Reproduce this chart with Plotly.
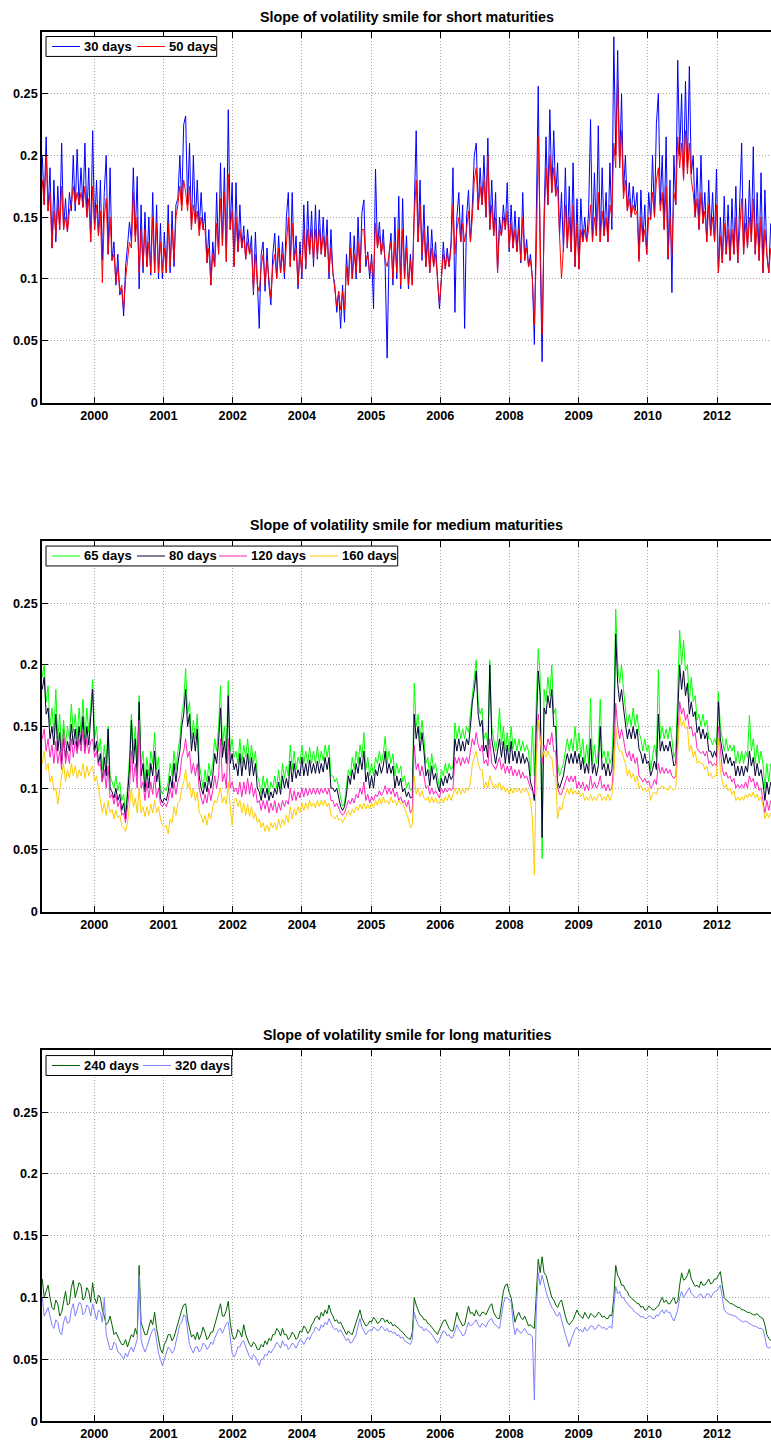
import pandas as pd
import plotly.graph_objects as go

# Fortnightly observation dates shared by all series
DATES = pd.date_range("1999-01-04", periods=377, freq="14D")

# x ticks every 500 days, labelled by year
TICK_DATES = [pd.Timestamp("2000-01-15") + pd.Timedelta(days=500 * k) for k in range(10)]
TICK_LABELS = ["2000", "2001", "2002", "2004", "2005", "2006", "2008", "2009", "2010", "2012"]
Y_TICKS = [0, 0.05, 0.1, 0.15, 0.2, 0.25]
Y_LABELS = ["0", "0.05", "0.1", "0.15", "0.2", "0.25"]

# ---- short maturities ----
slope_30d = [
    0.20, 0.16, 0.215, 0.155, 0.19, 0.125, 0.18, 0.13, 0.175, 0.14,
    0.21, 0.14, 0.165, 0.138, 0.17, 0.155, 0.20, 0.155, 0.205, 0.16,
    0.19, 0.158, 0.21, 0.15, 0.19, 0.13, 0.22, 0.14, 0.18, 0.135,
    0.18, 0.115, 0.17, 0.20, 0.12, 0.19, 0.115, 0.13, 0.095, 0.12,
    0.087, 0.092, 0.07, 0.11, 0.127, 0.146, 0.13, 0.19, 0.135, 0.183,
    0.092, 0.16, 0.105, 0.154, 0.11, 0.15, 0.103, 0.17, 0.105, 0.16,
    0.10, 0.145, 0.10, 0.138, 0.105, 0.16, 0.105, 0.155, 0.11, 0.16,
    0.165, 0.20, 0.16, 0.225, 0.232, 0.16, 0.21, 0.14, 0.20, 0.145,
    0.18, 0.14, 0.17, 0.14, 0.154, 0.113, 0.14, 0.095, 0.13, 0.11,
    0.17, 0.12, 0.194, 0.127, 0.19, 0.114, 0.237, 0.14, 0.178, 0.11,
    0.178, 0.122, 0.16, 0.125, 0.143, 0.116, 0.14, 0.12, 0.135, 0.087,
    0.138, 0.09, 0.06, 0.12, 0.13, 0.09, 0.125, 0.095, 0.079, 0.12,
    0.137, 0.10, 0.135, 0.105, 0.13, 0.10, 0.15, 0.17, 0.11, 0.17,
    0.115, 0.135, 0.092, 0.13, 0.10, 0.16, 0.108, 0.163, 0.12, 0.155,
    0.11, 0.16, 0.116, 0.156, 0.12, 0.15, 0.118, 0.148, 0.10, 0.14,
    0.105, 0.095, 0.073, 0.09, 0.06, 0.095, 0.065, 0.12, 0.095, 0.138,
    0.10, 0.135, 0.10, 0.15, 0.105, 0.154, 0.164, 0.11, 0.122, 0.10,
    0.12, 0.076, 0.189, 0.125, 0.146, 0.12, 0.14, 0.11, 0.036, 0.12,
    0.137, 0.095, 0.15, 0.10, 0.167, 0.092, 0.165, 0.10, 0.135, 0.092,
    0.12, 0.095, 0.17, 0.22, 0.13, 0.18, 0.115, 0.16, 0.11, 0.143,
    0.105, 0.14, 0.11, 0.13, 0.10, 0.076, 0.10, 0.13, 0.108, 0.125,
    0.11, 0.13, 0.19, 0.073, 0.15, 0.17, 0.13, 0.16, 0.06, 0.15,
    0.172, 0.13, 0.16, 0.20, 0.21, 0.156, 0.19, 0.16, 0.20, 0.15,
    0.214, 0.14, 0.18, 0.135, 0.17, 0.105, 0.15, 0.135, 0.16, 0.14,
    0.178, 0.122, 0.16, 0.125, 0.155, 0.122, 0.15, 0.113, 0.17, 0.115,
    0.132, 0.11, 0.12, 0.10, 0.047, 0.14, 0.256, 0.12, 0.033, 0.15,
    0.215, 0.16, 0.237, 0.17, 0.22, 0.167, 0.194, 0.135, 0.17, 0.122,
    0.19, 0.125, 0.175, 0.122, 0.194, 0.11, 0.165, 0.108, 0.165, 0.13,
    0.15, 0.13, 0.155, 0.229, 0.13, 0.186, 0.135, 0.224, 0.13, 0.19,
    0.135, 0.17, 0.13, 0.194, 0.14, 0.296, 0.20, 0.285, 0.19, 0.25,
    0.17, 0.20, 0.155, 0.178, 0.15, 0.175, 0.155, 0.17, 0.116, 0.172,
    0.13, 0.16, 0.12, 0.17, 0.148, 0.20, 0.15, 0.226, 0.25, 0.16,
    0.20, 0.14, 0.215, 0.116, 0.18, 0.089, 0.20, 0.16, 0.277, 0.20,
    0.25, 0.18, 0.26, 0.19, 0.272, 0.185, 0.20, 0.15, 0.19, 0.14,
    0.20, 0.145, 0.17, 0.13, 0.18, 0.135, 0.17, 0.13, 0.189, 0.105,
    0.15, 0.113, 0.167, 0.12, 0.16, 0.115, 0.165, 0.12, 0.175, 0.113,
    0.16, 0.21, 0.12, 0.165, 0.125, 0.18, 0.13, 0.207, 0.12, 0.17,
    0.115, 0.186, 0.105, 0.172, 0.12, 0.105, 0.145,
]
slope_50d = [
    0.18, 0.16, 0.20, 0.155, 0.17, 0.125, 0.155, 0.135, 0.16, 0.14,
    0.175, 0.14, 0.15, 0.138, 0.155, 0.16, 0.175, 0.16, 0.17, 0.16,
    0.17, 0.158, 0.175, 0.15, 0.165, 0.13, 0.175, 0.14, 0.16, 0.135,
    0.155, 0.097, 0.15, 0.165, 0.12, 0.15, 0.115, 0.12, 0.097, 0.11,
    0.09, 0.095, 0.075, 0.10, 0.115, 0.13, 0.125, 0.17, 0.13, 0.15,
    0.105, 0.14, 0.11, 0.14, 0.11, 0.13, 0.105, 0.15, 0.105, 0.145,
    0.105, 0.13, 0.105, 0.125, 0.105, 0.145, 0.11, 0.14, 0.115, 0.15,
    0.16, 0.175, 0.155, 0.18, 0.17, 0.155, 0.175, 0.14, 0.16, 0.145,
    0.155, 0.135, 0.15, 0.14, 0.14, 0.113, 0.125, 0.095, 0.12, 0.11,
    0.145, 0.12, 0.165, 0.127, 0.17, 0.114, 0.185, 0.14, 0.155, 0.11,
    0.15, 0.122, 0.14, 0.125, 0.135, 0.116, 0.13, 0.12, 0.125, 0.09,
    0.12, 0.095, 0.09, 0.11, 0.12, 0.095, 0.115, 0.10, 0.085, 0.11,
    0.12, 0.10, 0.125, 0.105, 0.12, 0.105, 0.13, 0.15, 0.11, 0.145,
    0.115, 0.125, 0.095, 0.12, 0.105, 0.14, 0.11, 0.14, 0.12, 0.14,
    0.115, 0.14, 0.118, 0.14, 0.12, 0.135, 0.118, 0.135, 0.105, 0.125,
    0.105, 0.09, 0.078, 0.09, 0.075, 0.09, 0.075, 0.11, 0.095, 0.125,
    0.10, 0.12, 0.105, 0.13, 0.105, 0.14, 0.14, 0.115, 0.12, 0.105,
    0.115, 0.10, 0.145, 0.125, 0.135, 0.12, 0.13, 0.115, 0.11, 0.12,
    0.13, 0.10, 0.13, 0.105, 0.14, 0.095, 0.14, 0.10, 0.125, 0.095,
    0.115, 0.095, 0.15, 0.18, 0.13, 0.16, 0.12, 0.14, 0.11, 0.13,
    0.105, 0.125, 0.11, 0.12, 0.10, 0.08, 0.10, 0.12, 0.108, 0.12,
    0.11, 0.125, 0.16, 0.12, 0.14, 0.15, 0.13, 0.145, 0.13, 0.14,
    0.155, 0.13, 0.15, 0.18, 0.19, 0.156, 0.175, 0.16, 0.18, 0.15,
    0.20, 0.14, 0.16, 0.135, 0.15, 0.105, 0.14, 0.135, 0.15, 0.14,
    0.155, 0.125, 0.145, 0.125, 0.14, 0.122, 0.14, 0.115, 0.15, 0.115,
    0.125, 0.11, 0.115, 0.10, 0.063, 0.12, 0.215, 0.14, 0.055, 0.14,
    0.19, 0.16, 0.20, 0.17, 0.19, 0.167, 0.175, 0.135, 0.10, 0.125,
    0.16, 0.125, 0.15, 0.122, 0.16, 0.11, 0.145, 0.108, 0.14, 0.13,
    0.14, 0.13, 0.14, 0.16, 0.13, 0.15, 0.135, 0.17, 0.13, 0.155,
    0.135, 0.15, 0.13, 0.16, 0.15, 0.21, 0.19, 0.26, 0.19, 0.22,
    0.165, 0.18, 0.155, 0.165, 0.15, 0.16, 0.152, 0.155, 0.114, 0.15,
    0.13, 0.14, 0.12, 0.15, 0.148, 0.17, 0.15, 0.18, 0.19, 0.155,
    0.17, 0.14, 0.175, 0.116, 0.15, 0.12, 0.17, 0.16, 0.215, 0.19,
    0.21, 0.18, 0.22, 0.185, 0.21, 0.18, 0.17, 0.15, 0.165, 0.14,
    0.17, 0.145, 0.155, 0.13, 0.16, 0.135, 0.15, 0.13, 0.16, 0.105,
    0.135, 0.113, 0.145, 0.12, 0.14, 0.115, 0.14, 0.12, 0.15, 0.113,
    0.14, 0.165, 0.12, 0.145, 0.125, 0.15, 0.13, 0.165, 0.12, 0.145,
    0.115, 0.15, 0.105, 0.14, 0.12, 0.105, 0.125,
]

# ---- medium maturities ----
slope_65d = [
    0.19, 0.20, 0.17, 0.183, 0.15, 0.165, 0.145, 0.18, 0.14, 0.16,
    0.13, 0.155, 0.135, 0.15, 0.14, 0.168, 0.145, 0.16, 0.14, 0.165,
    0.145, 0.172, 0.14, 0.165, 0.145, 0.17, 0.188, 0.14, 0.15, 0.13,
    0.14, 0.115, 0.135, 0.12, 0.15, 0.11, 0.105, 0.10, 0.11, 0.098,
    0.105, 0.09, 0.095, 0.08, 0.10, 0.125, 0.16, 0.13, 0.15, 0.12,
    0.175, 0.12, 0.13, 0.105, 0.125, 0.11, 0.13, 0.12, 0.145, 0.115,
    0.125, 0.10, 0.095, 0.10, 0.098, 0.105, 0.12, 0.11, 0.13, 0.115,
    0.13, 0.14, 0.16, 0.17, 0.197, 0.16, 0.17, 0.14, 0.155, 0.14,
    0.16, 0.12, 0.11, 0.10, 0.115, 0.105, 0.12, 0.11, 0.12, 0.14,
    0.13, 0.15, 0.183, 0.135, 0.15, 0.13, 0.187, 0.13, 0.14, 0.125,
    0.13, 0.12, 0.14, 0.12, 0.135, 0.125, 0.14, 0.12, 0.135, 0.12,
    0.13, 0.11, 0.105, 0.095, 0.11, 0.10, 0.108, 0.095, 0.105, 0.10,
    0.11, 0.10, 0.115, 0.10, 0.12, 0.108, 0.118, 0.11, 0.135, 0.115,
    0.13, 0.115, 0.125, 0.12, 0.135, 0.12, 0.13, 0.12, 0.133, 0.12,
    0.13, 0.12, 0.134, 0.12, 0.13, 0.122, 0.135, 0.125, 0.135, 0.11,
    0.11, 0.105, 0.108, 0.10, 0.09, 0.085, 0.088, 0.10, 0.115, 0.11,
    0.125, 0.115, 0.13, 0.12, 0.135, 0.125, 0.145, 0.115, 0.125, 0.11,
    0.12, 0.11, 0.125, 0.12, 0.13, 0.12, 0.128, 0.142, 0.12, 0.13,
    0.12, 0.128, 0.11, 0.12, 0.112, 0.118, 0.105, 0.11, 0.10, 0.105,
    0.098, 0.10, 0.185, 0.15, 0.16, 0.14, 0.155, 0.14, 0.12, 0.125,
    0.11, 0.128, 0.115, 0.12, 0.11, 0.10, 0.115, 0.11, 0.12, 0.112,
    0.12, 0.115, 0.118, 0.153, 0.14, 0.15, 0.14, 0.148, 0.14, 0.15,
    0.145, 0.16, 0.18, 0.19, 0.204, 0.17, 0.16, 0.165, 0.14, 0.145,
    0.135, 0.204, 0.15, 0.14, 0.13, 0.14, 0.165, 0.135, 0.15, 0.13,
    0.145, 0.13, 0.15, 0.132, 0.14, 0.13, 0.14, 0.13, 0.138, 0.13,
    0.135, 0.13, 0.11, 0.15, 0.11, 0.17, 0.213, 0.19, 0.043, 0.18,
    0.17, 0.19, 0.175, 0.20, 0.16, 0.165, 0.12, 0.11, 0.115, 0.12,
    0.13, 0.14, 0.13, 0.14, 0.13, 0.15, 0.13, 0.145, 0.125, 0.14,
    0.12, 0.135, 0.12, 0.173, 0.12, 0.135, 0.12, 0.13, 0.172, 0.125,
    0.13, 0.12, 0.13, 0.12, 0.125, 0.16, 0.245, 0.20, 0.185, 0.20,
    0.18, 0.165, 0.15, 0.16, 0.15, 0.165, 0.15, 0.16, 0.145, 0.14,
    0.13, 0.14, 0.13, 0.135, 0.115, 0.125, 0.135, 0.125, 0.196, 0.14,
    0.15, 0.14, 0.148, 0.14, 0.15, 0.14, 0.125, 0.13, 0.175, 0.228,
    0.20, 0.22, 0.195, 0.20, 0.17, 0.19, 0.17, 0.175, 0.155, 0.16,
    0.15, 0.16, 0.15, 0.155, 0.14, 0.14, 0.135, 0.14, 0.135, 0.178,
    0.15, 0.14, 0.13, 0.14, 0.13, 0.135, 0.13, 0.135, 0.12, 0.13,
    0.12, 0.13, 0.12, 0.13, 0.125, 0.159, 0.13, 0.14, 0.12, 0.135,
    0.12, 0.13, 0.12, 0.10, 0.12, 0.105, 0.12,
]
slope_80d = [
    0.18, 0.19, 0.16, 0.165, 0.14, 0.15, 0.135, 0.16, 0.13, 0.145,
    0.12, 0.14, 0.125, 0.138, 0.13, 0.152, 0.135, 0.148, 0.13, 0.15,
    0.135, 0.158, 0.13, 0.15, 0.135, 0.155, 0.18, 0.13, 0.138, 0.12,
    0.128, 0.105, 0.125, 0.11, 0.148, 0.10, 0.097, 0.092, 0.10, 0.09,
    0.095, 0.082, 0.088, 0.075, 0.092, 0.115, 0.155, 0.12, 0.14, 0.11,
    0.17, 0.11, 0.12, 0.097, 0.115, 0.10, 0.12, 0.11, 0.13, 0.105,
    0.115, 0.092, 0.088, 0.092, 0.09, 0.097, 0.11, 0.10, 0.12, 0.105,
    0.12, 0.13, 0.15, 0.16, 0.18, 0.15, 0.16, 0.13, 0.145, 0.13,
    0.148, 0.11, 0.10, 0.095, 0.105, 0.097, 0.11, 0.10, 0.11, 0.128,
    0.12, 0.138, 0.165, 0.125, 0.138, 0.12, 0.175, 0.12, 0.128, 0.115,
    0.12, 0.11, 0.128, 0.11, 0.125, 0.115, 0.128, 0.11, 0.125, 0.11,
    0.12, 0.10, 0.097, 0.09, 0.10, 0.092, 0.10, 0.09, 0.097, 0.092,
    0.10, 0.095, 0.105, 0.095, 0.11, 0.10, 0.108, 0.10, 0.122, 0.105,
    0.12, 0.108, 0.115, 0.11, 0.125, 0.11, 0.12, 0.11, 0.123, 0.112,
    0.12, 0.112, 0.122, 0.112, 0.12, 0.113, 0.125, 0.115, 0.125, 0.10,
    0.10, 0.097, 0.10, 0.093, 0.085, 0.082, 0.085, 0.095, 0.11, 0.103,
    0.115, 0.107, 0.12, 0.112, 0.125, 0.115, 0.13, 0.105, 0.113, 0.10,
    0.11, 0.10, 0.115, 0.11, 0.12, 0.112, 0.118, 0.13, 0.112, 0.12,
    0.112, 0.118, 0.10, 0.11, 0.102, 0.108, 0.097, 0.10, 0.093, 0.097,
    0.092, 0.093, 0.16, 0.14, 0.15, 0.13, 0.145, 0.13, 0.11, 0.115,
    0.102, 0.118, 0.107, 0.112, 0.102, 0.097, 0.108, 0.102, 0.11, 0.104,
    0.112, 0.107, 0.11, 0.14, 0.13, 0.14, 0.13, 0.138, 0.13, 0.14,
    0.135, 0.15, 0.17, 0.18, 0.195, 0.16, 0.15, 0.155, 0.13, 0.135,
    0.125, 0.20, 0.14, 0.13, 0.12, 0.13, 0.14, 0.125, 0.138, 0.12,
    0.135, 0.12, 0.138, 0.122, 0.13, 0.12, 0.13, 0.12, 0.128, 0.12,
    0.125, 0.12, 0.105, 0.10, 0.09, 0.15, 0.195, 0.175, 0.06, 0.165,
    0.16, 0.175, 0.165, 0.18, 0.15, 0.15, 0.105, 0.10, 0.105, 0.11,
    0.12, 0.128, 0.12, 0.128, 0.12, 0.13, 0.12, 0.128, 0.115, 0.125,
    0.112, 0.12, 0.112, 0.14, 0.112, 0.12, 0.11, 0.118, 0.15, 0.115,
    0.12, 0.11, 0.12, 0.11, 0.115, 0.14, 0.225, 0.185, 0.17, 0.18,
    0.165, 0.15, 0.14, 0.148, 0.14, 0.15, 0.14, 0.148, 0.132, 0.128,
    0.12, 0.128, 0.12, 0.122, 0.11, 0.115, 0.122, 0.115, 0.16, 0.13,
    0.138, 0.13, 0.135, 0.13, 0.138, 0.128, 0.118, 0.12, 0.16, 0.20,
    0.18, 0.195, 0.175, 0.185, 0.16, 0.17, 0.158, 0.162, 0.145, 0.15,
    0.14, 0.148, 0.14, 0.145, 0.13, 0.13, 0.125, 0.13, 0.125, 0.17,
    0.14, 0.13, 0.12, 0.128, 0.12, 0.125, 0.118, 0.122, 0.11, 0.118,
    0.11, 0.118, 0.11, 0.118, 0.113, 0.13, 0.118, 0.125, 0.11, 0.12,
    0.11, 0.115, 0.105, 0.09, 0.105, 0.095, 0.105,
]
slope_120d = [
    0.14, 0.148, 0.13, 0.14, 0.125, 0.135, 0.12, 0.138, 0.12, 0.13,
    0.115, 0.148, 0.12, 0.13, 0.12, 0.14, 0.125, 0.138, 0.128, 0.14,
    0.13, 0.147, 0.128, 0.14, 0.128, 0.138, 0.14, 0.125, 0.13, 0.118,
    0.12, 0.105, 0.115, 0.10, 0.118, 0.092, 0.095, 0.087, 0.095, 0.085,
    0.09, 0.078, 0.08, 0.072, 0.085, 0.10, 0.13, 0.105, 0.12, 0.10,
    0.155, 0.10, 0.105, 0.09, 0.105, 0.092, 0.105, 0.095, 0.11, 0.092,
    0.10, 0.087, 0.085, 0.088, 0.085, 0.09, 0.10, 0.092, 0.105, 0.095,
    0.105, 0.11, 0.125, 0.13, 0.14, 0.125, 0.13, 0.112, 0.12, 0.11,
    0.12, 0.10, 0.092, 0.087, 0.095, 0.088, 0.10, 0.09, 0.098, 0.11,
    0.10, 0.11, 0.14, 0.105, 0.112, 0.10, 0.14, 0.10, 0.105, 0.097,
    0.10, 0.095, 0.105, 0.093, 0.105, 0.095, 0.108, 0.095, 0.105, 0.093,
    0.10, 0.088, 0.09, 0.082, 0.09, 0.083, 0.09, 0.08, 0.088, 0.082,
    0.09, 0.08, 0.088, 0.082, 0.09, 0.085, 0.09, 0.087, 0.10, 0.09,
    0.098, 0.09, 0.097, 0.092, 0.10, 0.093, 0.10, 0.094, 0.10, 0.095,
    0.10, 0.095, 0.10, 0.095, 0.10, 0.096, 0.10, 0.095, 0.10, 0.09,
    0.09, 0.085, 0.088, 0.083, 0.08, 0.078, 0.08, 0.085, 0.09, 0.087,
    0.092, 0.088, 0.095, 0.092, 0.10, 0.095, 0.105, 0.09, 0.095, 0.088,
    0.093, 0.09, 0.095, 0.093, 0.098, 0.094, 0.097, 0.102, 0.095, 0.10,
    0.095, 0.10, 0.093, 0.097, 0.09, 0.093, 0.088, 0.09, 0.085, 0.09,
    0.08, 0.083, 0.135, 0.115, 0.12, 0.11, 0.118, 0.11, 0.10, 0.102,
    0.095, 0.10, 0.095, 0.098, 0.095, 0.092, 0.10, 0.096, 0.10, 0.097,
    0.10, 0.098, 0.10, 0.125, 0.12, 0.125, 0.118, 0.125, 0.12, 0.125,
    0.12, 0.13, 0.14, 0.135, 0.145, 0.135, 0.13, 0.135, 0.12, 0.123,
    0.118, 0.14, 0.12, 0.118, 0.115, 0.12, 0.125, 0.115, 0.12, 0.112,
    0.118, 0.112, 0.118, 0.11, 0.115, 0.11, 0.115, 0.108, 0.113, 0.108,
    0.11, 0.105, 0.10, 0.098, 0.095, 0.13, 0.16, 0.14, 0.12, 0.135,
    0.13, 0.14, 0.135, 0.145, 0.13, 0.13, 0.10, 0.095, 0.095, 0.10,
    0.105, 0.11, 0.105, 0.11, 0.105, 0.11, 0.10, 0.105, 0.10, 0.105,
    0.098, 0.103, 0.098, 0.11, 0.10, 0.105, 0.10, 0.103, 0.11, 0.10,
    0.103, 0.098, 0.103, 0.098, 0.10, 0.12, 0.169, 0.15, 0.14, 0.148,
    0.14, 0.13, 0.125, 0.13, 0.122, 0.128, 0.12, 0.125, 0.11, 0.108,
    0.105, 0.108, 0.104, 0.106, 0.10, 0.102, 0.107, 0.103, 0.12, 0.112,
    0.117, 0.112, 0.116, 0.112, 0.115, 0.11, 0.108, 0.11, 0.14, 0.17,
    0.16, 0.165, 0.155, 0.16, 0.148, 0.15, 0.142, 0.145, 0.132, 0.13,
    0.128, 0.13, 0.126, 0.13, 0.12, 0.122, 0.118, 0.12, 0.118, 0.15,
    0.13, 0.115, 0.11, 0.113, 0.108, 0.11, 0.105, 0.108, 0.10, 0.103,
    0.10, 0.103, 0.10, 0.105, 0.10, 0.11, 0.105, 0.108, 0.10, 0.105,
    0.098, 0.10, 0.09, 0.08, 0.09, 0.082, 0.09,
]
slope_160d = [
    0.12, 0.13, 0.115, 0.12, 0.105, 0.11, 0.098, 0.10, 0.087, 0.10,
    0.11, 0.12, 0.105, 0.115, 0.108, 0.12, 0.11, 0.118, 0.108, 0.115,
    0.11, 0.12, 0.108, 0.118, 0.11, 0.115, 0.118, 0.105, 0.11, 0.10,
    0.09, 0.08, 0.088, 0.078, 0.09, 0.08, 0.083, 0.075, 0.082, 0.076,
    0.078, 0.07, 0.068, 0.065, 0.072, 0.085, 0.10, 0.085, 0.092, 0.08,
    0.10, 0.08, 0.085, 0.077, 0.085, 0.078, 0.087, 0.08, 0.09, 0.08,
    0.085, 0.075, 0.07, 0.068, 0.07, 0.063, 0.075, 0.072, 0.085, 0.078,
    0.088, 0.09, 0.10, 0.105, 0.115, 0.10, 0.105, 0.092, 0.10, 0.09,
    0.097, 0.08, 0.078, 0.072, 0.078, 0.07, 0.08, 0.075, 0.085, 0.09,
    0.088, 0.095, 0.10, 0.088, 0.093, 0.087, 0.105, 0.085, 0.07, 0.09,
    0.092, 0.085, 0.09, 0.08, 0.088, 0.078, 0.087, 0.077, 0.085, 0.075,
    0.08, 0.072, 0.075, 0.068, 0.072, 0.065, 0.07, 0.065, 0.072, 0.068,
    0.072, 0.066, 0.075, 0.068, 0.075, 0.07, 0.078, 0.072, 0.085, 0.075,
    0.083, 0.078, 0.085, 0.08, 0.088, 0.082, 0.088, 0.083, 0.09, 0.085,
    0.088, 0.084, 0.09, 0.085, 0.09, 0.086, 0.09, 0.085, 0.088, 0.078,
    0.077, 0.075, 0.078, 0.074, 0.075, 0.072, 0.075, 0.078, 0.082, 0.078,
    0.083, 0.08, 0.085, 0.082, 0.087, 0.083, 0.088, 0.083, 0.087, 0.083,
    0.088, 0.084, 0.09, 0.086, 0.092, 0.087, 0.093, 0.088, 0.09, 0.087,
    0.093, 0.088, 0.09, 0.086, 0.09, 0.087, 0.088, 0.084, 0.08, 0.075,
    0.068, 0.07, 0.11, 0.095, 0.10, 0.093, 0.098, 0.092, 0.09, 0.093,
    0.088, 0.093, 0.088, 0.092, 0.088, 0.088, 0.092, 0.088, 0.093, 0.09,
    0.095, 0.09, 0.095, 0.10, 0.095, 0.10, 0.095, 0.10, 0.096, 0.10,
    0.098, 0.105, 0.12, 0.125, 0.13, 0.12, 0.115, 0.115, 0.10, 0.105,
    0.10, 0.11, 0.105, 0.10, 0.103, 0.10, 0.105, 0.098, 0.102, 0.097,
    0.10, 0.095, 0.10, 0.096, 0.10, 0.097, 0.10, 0.096, 0.10, 0.097,
    0.10, 0.095, 0.09, 0.075, 0.03, 0.12, 0.155, 0.14, 0.125, 0.13,
    0.125, 0.13, 0.125, 0.125, 0.11, 0.11, 0.075, 0.085, 0.082, 0.09,
    0.095, 0.10, 0.095, 0.10, 0.095, 0.098, 0.095, 0.098, 0.093, 0.096,
    0.09, 0.093, 0.09, 0.095, 0.09, 0.093, 0.09, 0.095, 0.095, 0.09,
    0.093, 0.09, 0.095, 0.09, 0.095, 0.11, 0.15, 0.135, 0.13, 0.13,
    0.125, 0.12, 0.11, 0.115, 0.108, 0.112, 0.105, 0.11, 0.10, 0.102,
    0.098, 0.10, 0.097, 0.10, 0.09, 0.095, 0.097, 0.095, 0.10, 0.10,
    0.102, 0.10, 0.10, 0.098, 0.102, 0.10, 0.098, 0.10, 0.13, 0.16,
    0.15, 0.155, 0.148, 0.15, 0.13, 0.135, 0.125, 0.13, 0.12, 0.122,
    0.12, 0.12, 0.115, 0.118, 0.11, 0.112, 0.108, 0.11, 0.11, 0.14,
    0.115, 0.105, 0.10, 0.103, 0.098, 0.10, 0.095, 0.098, 0.09, 0.093,
    0.09, 0.093, 0.09, 0.095, 0.092, 0.096, 0.093, 0.097, 0.092, 0.095,
    0.09, 0.093, 0.085, 0.075, 0.08, 0.076, 0.08,
]

# ---- long maturities ----
slope_240d = [
    0.115, 0.10, 0.105, 0.11, 0.10, 0.092, 0.09, 0.098, 0.095, 0.085,
    0.088, 0.098, 0.105, 0.094, 0.095, 0.108, 0.114, 0.10, 0.105, 0.112,
    0.11, 0.098, 0.10, 0.108, 0.105, 0.096, 0.112, 0.10, 0.095, 0.102,
    0.10, 0.09, 0.085, 0.078, 0.08, 0.085, 0.078, 0.07, 0.072, 0.068,
    0.065, 0.062, 0.062, 0.066, 0.06, 0.065, 0.07, 0.068, 0.075, 0.07,
    0.126, 0.08, 0.075, 0.07, 0.07, 0.076, 0.082, 0.078, 0.088, 0.075,
    0.065, 0.058, 0.055, 0.062, 0.065, 0.07, 0.07, 0.065, 0.068, 0.074,
    0.08, 0.086, 0.09, 0.094, 0.095, 0.082, 0.075, 0.068, 0.07, 0.066,
    0.072, 0.066, 0.07, 0.076, 0.072, 0.066, 0.068, 0.072, 0.072, 0.078,
    0.085, 0.09, 0.095, 0.085, 0.085, 0.09, 0.097, 0.08, 0.07, 0.066,
    0.068, 0.074, 0.072, 0.068, 0.078, 0.07, 0.065, 0.062, 0.06, 0.064,
    0.062, 0.058, 0.058, 0.062, 0.06, 0.065, 0.062, 0.067, 0.065, 0.07,
    0.07, 0.075, 0.073, 0.069, 0.075, 0.07, 0.07, 0.066, 0.068, 0.072,
    0.07, 0.066, 0.068, 0.073, 0.072, 0.077, 0.075, 0.071, 0.073, 0.078,
    0.08, 0.084, 0.085, 0.082, 0.088, 0.085, 0.09, 0.087, 0.094, 0.088,
    0.085, 0.081, 0.082, 0.079, 0.08, 0.077, 0.074, 0.07, 0.073, 0.071,
    0.07, 0.075, 0.078, 0.085, 0.09, 0.083, 0.08, 0.077, 0.078, 0.081,
    0.08, 0.084, 0.082, 0.079, 0.08, 0.083, 0.083, 0.08, 0.082, 0.079,
    0.08, 0.077, 0.078, 0.076, 0.075, 0.073, 0.072, 0.07, 0.068, 0.067,
    0.066, 0.072, 0.10, 0.094, 0.09, 0.086, 0.085, 0.082, 0.082, 0.079,
    0.078, 0.076, 0.074, 0.072, 0.07, 0.074, 0.078, 0.081, 0.082, 0.078,
    0.075, 0.073, 0.073, 0.08, 0.088, 0.083, 0.08, 0.077, 0.078, 0.085,
    0.093, 0.087, 0.088, 0.085, 0.09, 0.086, 0.085, 0.088, 0.088, 0.086,
    0.09, 0.093, 0.095, 0.088, 0.085, 0.083, 0.083, 0.095, 0.105, 0.11,
    0.111, 0.104, 0.10, 0.09, 0.08, 0.085, 0.088, 0.084, 0.082, 0.085,
    0.08, 0.077, 0.078, 0.076, 0.075, 0.10, 0.131, 0.12, 0.133, 0.12,
    0.118, 0.112, 0.106, 0.10, 0.098, 0.094, 0.092, 0.096, 0.098, 0.09,
    0.085, 0.08, 0.078, 0.08, 0.082, 0.086, 0.09, 0.086, 0.085, 0.083,
    0.088, 0.085, 0.083, 0.087, 0.086, 0.084, 0.085, 0.088, 0.087, 0.084,
    0.085, 0.083, 0.083, 0.086, 0.085, 0.10, 0.126, 0.118, 0.115, 0.11,
    0.11, 0.106, 0.105, 0.101, 0.10, 0.098, 0.097, 0.095, 0.095, 0.092,
    0.093, 0.09, 0.09, 0.093, 0.092, 0.09, 0.09, 0.092, 0.093, 0.097,
    0.10, 0.096, 0.098, 0.095, 0.095, 0.098, 0.10, 0.095, 0.097, 0.11,
    0.12, 0.114, 0.115, 0.118, 0.123, 0.115, 0.112, 0.109, 0.11, 0.108,
    0.113, 0.11, 0.11, 0.113, 0.115, 0.111, 0.112, 0.115, 0.115, 0.118,
    0.121, 0.11, 0.10, 0.098, 0.097, 0.095, 0.095, 0.094, 0.093, 0.092,
    0.092, 0.09, 0.09, 0.089, 0.088, 0.088, 0.087, 0.086, 0.086, 0.087,
    0.085, 0.084, 0.083, 0.078, 0.07, 0.067, 0.065,
]
slope_320d = [
    0.10, 0.085, 0.088, 0.092, 0.085, 0.078, 0.075, 0.082, 0.08, 0.072,
    0.07, 0.08, 0.085, 0.079, 0.08, 0.09, 0.095, 0.085, 0.09, 0.096,
    0.095, 0.086, 0.088, 0.094, 0.092, 0.085, 0.095, 0.088, 0.082, 0.09,
    0.088, 0.08, 0.10, 0.07, 0.065, 0.058, 0.058, 0.064, 0.062, 0.056,
    0.055, 0.052, 0.05, 0.055, 0.052, 0.057, 0.06, 0.056, 0.062, 0.066,
    0.118, 0.066, 0.06, 0.056, 0.06, 0.066, 0.07, 0.074, 0.075, 0.065,
    0.055, 0.05, 0.045, 0.05, 0.055, 0.06, 0.058, 0.055, 0.057, 0.065,
    0.072, 0.078, 0.08, 0.086, 0.085, 0.072, 0.062, 0.058, 0.055, 0.06,
    0.06, 0.056, 0.058, 0.063, 0.062, 0.058, 0.06, 0.064, 0.062, 0.067,
    0.07, 0.074, 0.075, 0.071, 0.075, 0.079, 0.08, 0.068, 0.055, 0.052,
    0.055, 0.06, 0.06, 0.064, 0.065, 0.06, 0.055, 0.052, 0.05, 0.054,
    0.052, 0.049, 0.045, 0.05, 0.05, 0.054, 0.053, 0.057, 0.055, 0.058,
    0.06, 0.064, 0.062, 0.059, 0.065, 0.061, 0.062, 0.058, 0.06, 0.063,
    0.062, 0.059, 0.062, 0.066, 0.065, 0.062, 0.065, 0.068, 0.066, 0.07,
    0.072, 0.076, 0.075, 0.073, 0.078, 0.076, 0.08, 0.078, 0.083, 0.079,
    0.076, 0.074, 0.075, 0.072, 0.074, 0.071, 0.068, 0.065, 0.067, 0.063,
    0.064, 0.067, 0.07, 0.077, 0.083, 0.076, 0.073, 0.07, 0.072, 0.074,
    0.073, 0.076, 0.075, 0.073, 0.074, 0.077, 0.075, 0.073, 0.075, 0.072,
    0.073, 0.071, 0.072, 0.069, 0.07, 0.067, 0.068, 0.065, 0.064, 0.063,
    0.062, 0.066, 0.088, 0.082, 0.078, 0.076, 0.076, 0.073, 0.075, 0.073,
    0.072, 0.07, 0.068, 0.066, 0.063, 0.066, 0.07, 0.073, 0.072, 0.069,
    0.07, 0.067, 0.068, 0.073, 0.078, 0.074, 0.072, 0.069, 0.07, 0.075,
    0.08, 0.077, 0.078, 0.08, 0.082, 0.078, 0.076, 0.079, 0.078, 0.076,
    0.08, 0.082, 0.083, 0.079, 0.078, 0.076, 0.075, 0.085, 0.095, 0.10,
    0.10, 0.098, 0.097, 0.08, 0.07, 0.075, 0.073, 0.071, 0.073, 0.075,
    0.072, 0.07, 0.07, 0.068, 0.017, 0.09, 0.12, 0.11, 0.118, 0.11,
    0.105, 0.10, 0.095, 0.092, 0.09, 0.086, 0.085, 0.088, 0.082, 0.075,
    0.07, 0.065, 0.06, 0.066, 0.07, 0.074, 0.076, 0.073, 0.074, 0.072,
    0.076, 0.073, 0.074, 0.077, 0.077, 0.074, 0.075, 0.078, 0.077, 0.075,
    0.076, 0.074, 0.075, 0.077, 0.075, 0.09, 0.109, 0.103, 0.105, 0.10,
    0.10, 0.097, 0.095, 0.093, 0.092, 0.09, 0.088, 0.087, 0.086, 0.084,
    0.085, 0.083, 0.083, 0.085, 0.085, 0.083, 0.083, 0.086, 0.085, 0.088,
    0.09, 0.087, 0.09, 0.088, 0.088, 0.084, 0.081, 0.085, 0.09, 0.10,
    0.105, 0.10, 0.103, 0.106, 0.108, 0.103, 0.102, 0.10, 0.10, 0.102,
    0.103, 0.10, 0.10, 0.103, 0.103, 0.10, 0.103, 0.105, 0.105, 0.108,
    0.11, 0.10, 0.09, 0.088, 0.087, 0.086, 0.086, 0.085, 0.085, 0.083,
    0.082, 0.081, 0.08, 0.081, 0.08, 0.079, 0.078, 0.077, 0.077, 0.076,
    0.075, 0.075, 0.074, 0.068, 0.06, 0.059, 0.06,
]

FONT = "Liberation Sans, Arial, Helvetica, sans-serif"
W, H = 771, 1448
ML = 42                 # left margin (px)
PW = W - ML             # plot width (px)

# panel geometry in pixels; legend entries give the x where each line sample starts
PANELS = [
    dict(title="Slope of volatility smile for short maturities", top=32, bottom=404.5,
         title_y=17, legend_box=(46, 36.7, 216.7, 56.7),
         series=[("30 days", slope_30d, "#0000FF", 52),
                 ("50 days", slope_50d, "#FF0000", 137)]),
    dict(title="Slope of volatility smile for medium maturities", top=544, bottom=916,
         title_y=528, legend_box=(46, 548.7, 397.7, 568.7),
         series=[("65 days", slope_65d, "#00FF00", 52),
                 ("80 days", slope_80d, "#000033", 137),
                 ("120 days", slope_120d, "#FF22C0", 219),
                 ("160 days", slope_160d, "#FFCC00", 310)]),
    dict(title="Slope of volatility smile for long maturities", top=1055.5, bottom=1428,
         title_y=1040, legend_box=(46, 1060.7, 231.7, 1080.7),
         series=[("240 days", slope_240d, "#006400", 52),
                 ("320 days", slope_320d, "#8080FF", 143)]),
]


def px_x(px):
    return (px - ML) / PW


def px_y(py):
    return 1 - py / H


fig = go.Figure()
layout = dict(
    width=W, height=H,
    margin=dict(l=ML, r=0, t=0, b=0),
    paper_bgcolor="white", plot_bgcolor="white",
    font=dict(family=FONT, size=13, color="black"),
    showlegend=False,
    annotations=[], shapes=[],
)

for k, p in enumerate(PANELS, start=1):
    sfx = "" if k == 1 else str(k)
    for name, vals, color, _ in p["series"]:
        fig.add_trace(go.Scatter(
            x=DATES[:len(vals)], y=vals, name=name, mode="lines",
            line=dict(color=color, width=1),
            xaxis=f"x{sfx}", yaxis=f"y{sfx}",
        ))
    dom = [px_y(p["bottom"]), px_y(p["top"])]
    axis_common = dict(
        ticks="inside", ticklen=6, tickcolor="black", tickwidth=1,
        showline=True, linecolor="black", linewidth=1.5,
        showgrid=True, gridcolor="#a6a6a6", griddash="1px,2px", gridwidth=1,
        tickfont=dict(family=FONT, size=12.7, weight="bold", color="black"),
        zeroline=False,
    )
    layout[f"xaxis{sfx}"] = dict(
        type="date", domain=[0, 1], anchor=f"y{sfx}",
        range=["1999-01-02", "2013-06-05"],
        tickmode="array", tickvals=TICK_DATES, ticktext=TICK_LABELS,
        mirror="ticks", **axis_common,
    )
    layout[f"yaxis{sfx}"] = dict(
        domain=dom, anchor=f"x{sfx}", range=[0, 0.3],
        tickmode="array", tickvals=Y_TICKS, ticktext=Y_LABELS,
        **axis_common,
    )

    # legend box with line samples and labels
    x0, y0, x1, y1 = p["legend_box"]
    layout["shapes"].append(dict(
        type="rect", xref="paper", yref="paper", layer="above",
        x0=px_x(x0), x1=px_x(x1), y0=px_y(y1), y1=px_y(y0),
        fillcolor="white", line=dict(color="black", width=1),
    ))
    yc = (y0 + y1) / 2
    for name, _, color, sx in p["series"]:
        layout["shapes"].append(dict(
            type="line", xref="paper", yref="paper", layer="above",
            x0=px_x(sx), x1=px_x(sx + 28), y0=px_y(yc), y1=px_y(yc),
            line=dict(color=color, width=1),
        ))
        layout["annotations"].append(dict(
            text=name, xref="paper", yref="paper", x=px_x(sx + 30), y=px_y(yc),
            xanchor="left", yanchor="middle", showarrow=False,
            font=dict(family=FONT, size=13, weight="bold", color="black"),
        ))

    layout["annotations"].append(dict(
        text=p["title"], xref="paper", yref="paper", x=0.5, y=px_y(p["title_y"]),
        xanchor="center", yanchor="middle", showarrow=False,
        font=dict(family=FONT, size=14.3, weight="bold", color="black"),
    ))

fig.update_layout(**layout)
fig.write_html("out.html")
